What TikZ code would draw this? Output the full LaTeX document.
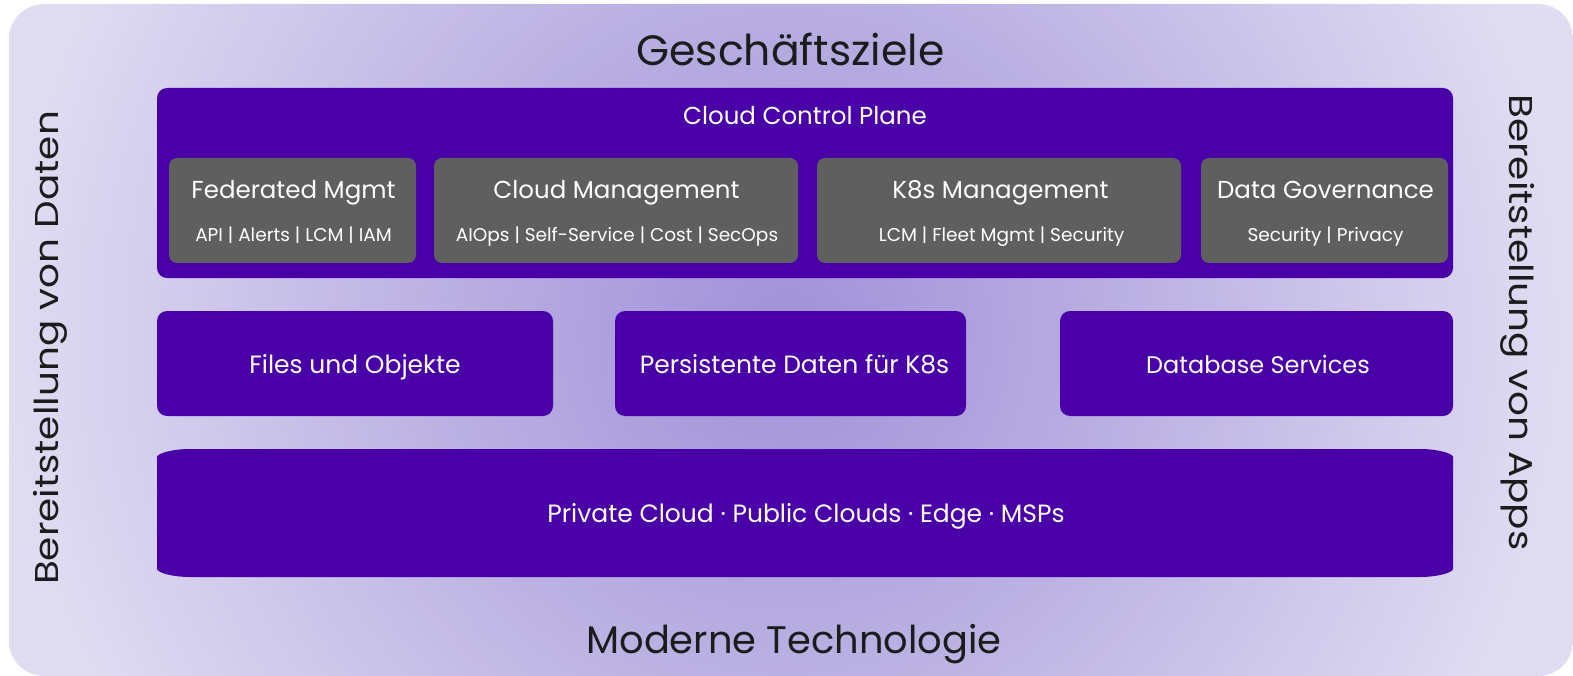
\documentclass[tikz,border=0pt]{standalone}
\usepackage{fontspec}
\setmainfont{Poppins}
\definecolor{dp}{HTML}{4A00A7}
\definecolor{gb}{HTML}{5F5F5F}
\definecolor{bgin}{HTML}{A091D8}
\definecolor{bgmid}{HTML}{B9AFE2}
\definecolor{bgout}{HTML}{E0DDF2}
\definecolor{ink}{HTML}{1C1C1C}
\pgfdeclareradialshading{bgshade}{\pgfpoint{0bp}{0bp}}{color(0bp)=(bgin); color(10bp)=(bgmid); color(24bp)=(bgout); color(50bp)=(bgout)}
\tikzset{
  panel/.style={fill=dp, rounded corners=10pt, inner sep=0pt},
  gbox/.style={fill=gb, rounded corners=8pt, inner sep=0pt, minimum height=105pt},
  mbox/.style={fill=dp, rounded corners=10pt, inner sep=0pt, minimum height=105pt},
  ttl/.style={text=white, font=\fontsize{24.5}{28}\selectfont, inner sep=0pt, anchor=base},
  sub/.style={text=white, font=\fontsize{18.5}{22}\selectfont, inner sep=0pt, anchor=base},
  mid/.style={text=white, font=\fontsize{25}{29}\selectfont, inner sep=0pt, anchor=base},
  big/.style={text=ink, inner sep=0pt, anchor=base},
  side/.style={text=ink, font=\fontsize{33}{38}\selectfont, inner sep=0pt, anchor=base}
}
\begin{document}
\begin{tikzpicture}[x=1pt,y=-1pt]
\useasboundingbox (0,0) rectangle (1573,676);
\begin{scope}
  \clip[rounded corners=35pt] (9,4) rectangle (1573,676);
  \shade[shading=bgshade] (-35,-490) rectangle (1605,1150);
\end{scope}

\node[big, font=\fontsize{42.5}{48}\selectfont] (goals) at (790.5,66) {Geschäftsziele};
\node[big, font=\fontsize{38.4}{44}\selectfont] (tech) at (794,653) {Moderne Technologie};
\node[side, rotate=90] (daten) at (58,348) {\scalebox{1.18}[1]{Bereitstellung von Daten}};
\node[side, rotate=-90] (apps) at (1509,322.5) {\scalebox{1.18}[1]{Bereitstellung von Apps}};

\node[panel, minimum width=1296pt, minimum height=190pt] (ccp) at (805,183) {};
\node[ttl] (ccpt) at (805,124.5) {Cloud Control Plane};

\node[gbox, minimum width=247pt] (fed) at (292.5,210.5) {};
\node[gbox, minimum width=364pt] (cm) at (616,210.5) {};
\node[gbox, minimum width=364pt] (k8) at (999,210.5) {};
\node[gbox, minimum width=247pt] (dg) at (1324.5,210.5) {};

\node[ttl] (fedt) at (293.5,199) {Federated Mgmt};
\node[sub] (feds) at (293.5,242) {API | Alerts | LCM | IAM};
\node[ttl] (cmt) at (616.5,199) {Cloud Management};
\node[sub] (cms) at (617,242) {AIOps | Self-Service | Cost | SecOps};
\node[ttl] (k8t) at (1000.5,199) {K8s Management};
\node[sub] (k8s) at (1001.5,242) {LCM | Fleet Mgmt | Security};
\node[ttl] (dgt) at (1325.5,199) {Data Governance};
\node[sub] (dgs) at (1325.5,242) {Security | Privacy};

\node[mbox, minimum width=396pt] (files) at (355,363.5) {};
\node[mbox, minimum width=351pt] (pers) at (790.5,363.5) {};
\node[mbox, minimum width=393pt] (db) at (1256.5,363.5) {};
\node[mid] (filest) at (355,373) {Files und Objekte};
\node[mid] (perst) at (794.5,373) {Persistente Daten für K8s};
\node[mid, font=\fontsize{24}{28}\selectfont] (dbt) at (1258,373) {Database Services};

\fill[dp] (190,449) -- (1420,449) .. controls (1438,449) and (1453,453.6) .. (1453,457)
  -- (1453,569) .. controls (1453,572.4) and (1438,577) .. (1420,577)
  -- (190,577) .. controls (172,577) and (157,572.4) .. (157,569)
  -- (157,457) .. controls (157,453.6) and (172,449) .. (190,449) -- cycle;
\node[mid] (infra) at (806,522) {Private Cloud · Public Clouds · Edge · MSPs};
\end{tikzpicture}
\end{document}
